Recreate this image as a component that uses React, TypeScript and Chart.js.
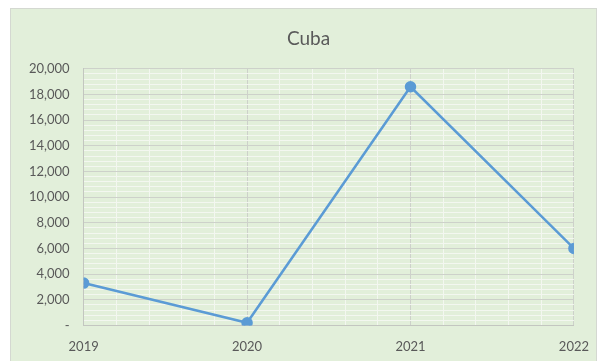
import React, { useEffect, useRef } from "react";
import { Chart, registerables } from "chart.js";

Chart.register(...registerables);

const years = [2019, 2020, 2021, 2022];
const values = [3300, 200, 18600, 6000];
const yMajorTicks = [0, 2000, 4000, 6000, 8000, 10000, 12000, 14000, 16000, 18000, 20000];
const title = "Cuba";

const isMajorX = (v: number) => Math.abs(v - Math.round(v)) < 1e-6;
const isMajorY = (v: number) => yMajorTicks.some((t) => Math.abs(t - v) < 1e-6);

export default function App() {
  const ref = useRef<HTMLCanvasElement | null>(null);
  useEffect(() => {
    if (!ref.current) return;
    const chart = new Chart(ref.current, {
      type: "line",
      data: {
        datasets: [
          {
            data: years.map((y, i) => ({ x: y, y: values[i] })),
            borderColor: "#5b9bd5",
            backgroundColor: "#5b9bd5",
            borderWidth: 2.5,
            pointRadius: 4.5,
            pointHoverRadius: 4.5,
            tension: 0,
          },
        ],
      },
      options: {
        responsive: false,
        animation: false,
        layout: { padding: { left: 4, right: 1, top: 14, bottom: 0 } },
        plugins: {
          legend: { display: false },
          tooltip: { enabled: false },
          title: {
            display: true,
            text: title,
            color: "#595959",
            font: { family: "Lato", size: 19, weight: "normal" },
            padding: { top: 4, bottom: 19 },
          },
        },
        scales: {
          x: {
            type: "linear",
            min: years[0],
            max: years[years.length - 1],
            grid: {
              color: (ctx: any) => (isMajorX(ctx.tick.value) ? "#cdd1ca" : "#f3f7f0"),
              lineWidth: 1,
              drawTicks: false,
            },
            border: { color: "#c3c6c0", width: 1 },
            ticks: {
              stepSize: 0.2,
              autoSkip: false,
              maxRotation: 0,
              padding: 14,
              color: "#595959",
              font: { family: "Lato", size: 13 },
              callback: (v: any) => (isMajorX(Number(v)) ? String(Math.round(Number(v))) : ""),
            },
          },
          y: {
            min: 0,
            max: yMajorTicks[yMajorTicks.length - 1],
            grid: {
              color: (ctx: any) => (isMajorY(ctx.tick.value) ? "#cdd1ca" : "#f3f7f0"),
              lineWidth: 1,
              drawTicks: false,
            },
            border: { color: "#c3c6c0", width: 1 },
            ticks: {
              stepSize: 400,
              autoSkip: false,
              padding: 14,
              color: "#595959",
              font: { family: "Lato", size: 13 },
              callback: (v: any) => {
                const n = Number(v);
                if (!isMajorY(n)) return "";
                return n === 0 ? "-" : Math.round(n).toLocaleString("en-US");
              },
            },
          },
        },
      },
    });
    return () => chart.destroy();
  }, []);
  return (
    <div
      style={{
        position: "fixed",
        left: 10,
        top: 8,
        width: 587,
        height: 360,
        background: "#e2efda",
        border: "1px solid #d4d8d1",
        boxSizing: "border-box",
      }}
    >
      <canvas ref={ref} width={592} height={360} style={{ display: "block" }} />
    </div>
  );
}
